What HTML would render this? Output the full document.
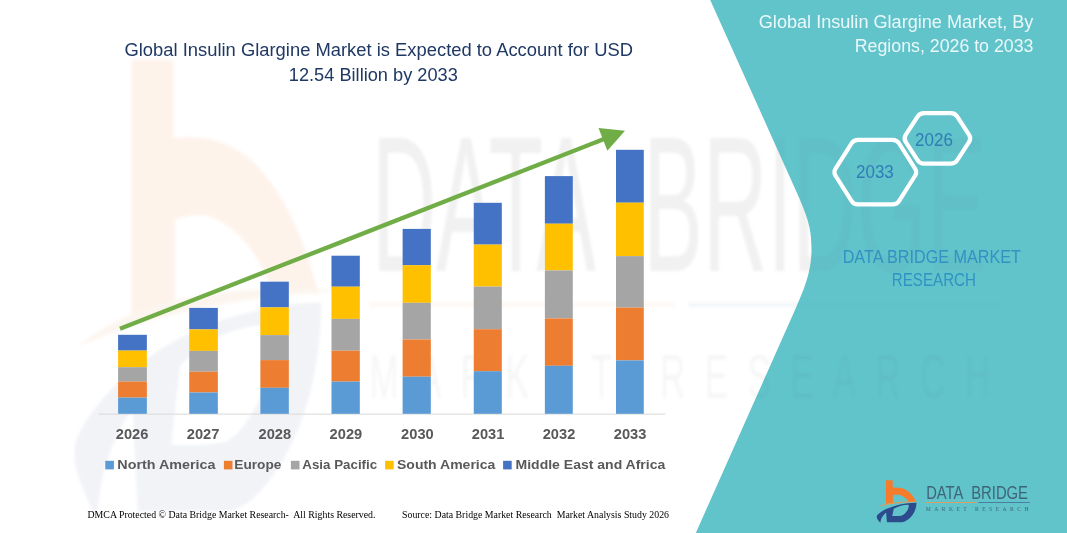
<!DOCTYPE html>
<html lang="en">
<head>
<meta charset="utf-8">
<title>Global Insulin Glargine Market</title>
<style>
html,body{margin:0;padding:0;background:#fff;}
body{width:1067px;height:533px;overflow:hidden;position:relative;}
svg{position:absolute;left:0;top:0;display:block;}
.sans{font-family:"Liberation Sans",sans-serif;}
.serif{font-family:"Liberation Serif",serif;}
</style>
</head>
<body>
<svg width="1067" height="533" viewBox="0 0 1067 533">
<defs><filter id="blur" x="-5%" y="-5%" width="110%" height="110%"><feGaussianBlur stdDeviation="1.5"/></filter></defs>
<rect width="1067" height="533" fill="#ffffff"/>
<clipPath id="cp"><path d="M710.2 0 L797 193 C808.1 218 811.5 229 811.5 249 C811.5 269 806.5 284 795.4 309 L695.8 533 H1067 V0 Z"/></clipPath>
<g id="watermark-icon" opacity="0.085" filter="url(#blur)">
<g transform="translate(131.5 59.8) scale(6.2 10.75) translate(-885.9 -480.2)">
<path fill="#F47C2C" d="M885.9 480.2 H892.7 V487.5 C896 487.2 899 487.5 901.4 488.1 C904 488.8 905.5 489.6 907 490.6 C909 492 910.3 493.2 911.5 494.6 C913 496.4 914 497.8 914.9 499.6 C915.4 500.6 915.8 501.3 916 502 C913.6 501.9 911 501.9 908.7 502 C908.3 501.2 907.7 500.4 907 499.6 C906 498.4 904.8 497.5 903.6 496.8 C902 495.8 900.3 495.1 898.6 494.8 C896.8 494.5 894.6 494.7 892.9 495.1 V502.9 C890.5 503.2 888.2 503.6 885.9 504.1 Z"/>
<path fill="#E39A55" d="M877.2 506.9 C884 503.6 893 502.2 902 501.7 C908 501.4 914 501.4 919.6 501.7 C914 501.9 908 502.2 902 502.8 C893 503.7 884.5 505 877.2 506.9 Z"/>
<path fill="#2C4B8C" fill-opacity="0.75" fill-rule="evenodd" d="M916.5 502.8 C912.8 502.8 909.3 503.1 905.8 503.6 C901.8 504.1 898.1 504.9 894.5 505.9 C891.5 506.7 888.8 507.8 886.1 509 C883.5 510.2 881.2 511.7 879.3 513.2 C878.2 514.1 877.3 515 876.8 516 C876.5 517.2 876.9 518.3 877.6 519.4 C878.4 520.6 879.3 521.8 880.4 522.8 C880.5 521.4 880.8 520.1 881.3 518.8 C881.8 517.6 882.5 516.5 883.3 515.5 C884.1 514.5 885 513.5 886.1 512.6 L886.9 522.2 H901.3 C903.8 522 906 520.9 908 519.4 C909.8 518.1 911.3 516.6 912.5 514.9 C913.8 513.2 914.7 511.3 915.4 509.3 C916.1 507.2 916.5 505 916.5 502.8 Z M893.7 508.7 C895.7 507.5 897.9 506.6 900.2 505.9 C902.7 505.2 905.3 504.9 908 504.8 L908.8 505.3 C908.8 506.7 908.5 508 908 509.3 C907.3 510.8 906.4 512.1 905.2 513.2 C904.1 514.3 902.8 515.2 901.3 515.7 C898.3 516.1 895.3 516.1 892.3 516 Z"/>
</g></g>
<g opacity="0.075" filter="url(#blur)">
<g transform="translate(372 130) scale(6.03 10.76) translate(-926.2 -486.2)">
<text class="sans" x="926.2" y="499.3" font-size="18" fill="#444" textLength="37.1" lengthAdjust="spacingAndGlyphs">DATA</text>
<text class="sans" x="971.2" y="499.3" font-size="18" fill="#444" textLength="56.8" lengthAdjust="spacingAndGlyphs">BRIDGE</text>
</g>
<rect x="370" y="302.5" width="305" height="4.5" fill="#E08A3C" opacity="0.8"/><rect x="688" y="302.5" width="312" height="4.5" fill="#4A7FA0" opacity="0.8"/>
</g>
<g opacity="0.04" filter="url(#blur)">
<g transform="translate(372 130) scale(6.03 10.76) translate(-926.2 -486.2)">
<text class="sans" x="925.8" y="511.1" font-size="5.8" fill="#333" textLength="102.9" lengthAdjust="spacing">MARKET RESEARCH</text>
</g></g>
<path id="panel" d="M710.2 0 L797 193 C808.1 218 811.5 229 811.5 249 C811.5 269 806.5 284 795.4 309 L695.8 533 H1067 V0 Z" fill="#62C4CB"/>
<g clip-path="url(#cp)">
<g opacity="0.03" filter="url(#blur)">
<g transform="translate(372 130) scale(6.03 10.76) translate(-926.2 -486.2)">
<text class="sans" x="926.2" y="499.3" font-size="18" fill="#444" textLength="37.1" lengthAdjust="spacingAndGlyphs">DATA</text>
<text class="sans" x="971.2" y="499.3" font-size="18" fill="#444" textLength="56.8" lengthAdjust="spacingAndGlyphs">BRIDGE</text>
</g>
<rect x="370" y="302.5" width="305" height="4.5" fill="#E08A3C" opacity="0.8"/><rect x="688" y="302.5" width="312" height="4.5" fill="#4A7FA0" opacity="0.8"/>
</g>
<g opacity="0.03" filter="url(#blur)">
<g transform="translate(372 130) scale(6.03 10.76) translate(-926.2 -486.2)">
<text class="sans" x="925.8" y="511.1" font-size="5.8" fill="#333" textLength="102.9" lengthAdjust="spacing">MARKET RESEARCH</text>
</g></g>
</g>
<rect x="98.3" y="413.6" width="567" height="1" fill="#D9D9D9"/>
<rect x="118.10" y="334.8" width="28.75" height="15.8" fill="#4472C4"/>
<rect x="118.10" y="350.6" width="28.75" height="16.6" fill="#FFC000"/>
<rect x="118.10" y="367.2" width="28.75" height="14.4" fill="#A5A5A5"/>
<rect x="118.10" y="381.6" width="28.75" height="16.0" fill="#ED7D31"/>
<rect x="118.10" y="397.6" width="28.75" height="16.2" fill="#5B9BD5"/>
<rect x="189.23" y="307.9" width="28.61" height="21.5" fill="#4472C4"/>
<rect x="189.23" y="329.4" width="28.61" height="21.5" fill="#FFC000"/>
<rect x="189.23" y="350.9" width="28.61" height="20.8" fill="#A5A5A5"/>
<rect x="189.23" y="371.7" width="28.61" height="20.8" fill="#ED7D31"/>
<rect x="189.23" y="392.5" width="28.61" height="21.3" fill="#5B9BD5"/>
<rect x="260.36" y="281.7" width="28.47" height="25.7" fill="#4472C4"/>
<rect x="260.36" y="307.4" width="28.47" height="27.7" fill="#FFC000"/>
<rect x="260.36" y="335.1" width="28.47" height="25.0" fill="#A5A5A5"/>
<rect x="260.36" y="360.1" width="28.47" height="27.7" fill="#ED7D31"/>
<rect x="260.36" y="387.8" width="28.47" height="26.0" fill="#5B9BD5"/>
<rect x="331.49" y="255.7" width="28.33" height="31.0" fill="#4472C4"/>
<rect x="331.49" y="286.7" width="28.33" height="32.2" fill="#FFC000"/>
<rect x="331.49" y="318.9" width="28.33" height="31.8" fill="#A5A5A5"/>
<rect x="331.49" y="350.7" width="28.33" height="30.9" fill="#ED7D31"/>
<rect x="331.49" y="381.6" width="28.33" height="32.2" fill="#5B9BD5"/>
<rect x="402.62" y="228.9" width="28.19" height="36.3" fill="#4472C4"/>
<rect x="402.62" y="265.2" width="28.19" height="37.6" fill="#FFC000"/>
<rect x="402.62" y="302.8" width="28.19" height="36.7" fill="#A5A5A5"/>
<rect x="402.62" y="339.5" width="28.19" height="37.2" fill="#ED7D31"/>
<rect x="402.62" y="376.7" width="28.19" height="37.1" fill="#5B9BD5"/>
<rect x="473.75" y="202.8" width="28.05" height="41.8" fill="#4472C4"/>
<rect x="473.75" y="244.6" width="28.05" height="42.0" fill="#FFC000"/>
<rect x="473.75" y="286.6" width="28.05" height="42.6" fill="#A5A5A5"/>
<rect x="473.75" y="329.2" width="28.05" height="42.0" fill="#ED7D31"/>
<rect x="473.75" y="371.2" width="28.05" height="42.6" fill="#5B9BD5"/>
<rect x="544.88" y="176.1" width="27.91" height="47.6" fill="#4472C4"/>
<rect x="544.88" y="223.7" width="27.91" height="46.7" fill="#FFC000"/>
<rect x="544.88" y="270.4" width="27.91" height="48.0" fill="#A5A5A5"/>
<rect x="544.88" y="318.4" width="27.91" height="47.4" fill="#ED7D31"/>
<rect x="544.88" y="365.8" width="27.91" height="48.0" fill="#5B9BD5"/>
<rect x="616.01" y="149.8" width="27.77" height="52.9" fill="#4472C4"/>
<rect x="616.01" y="202.7" width="27.77" height="53.4" fill="#FFC000"/>
<rect x="616.01" y="256.1" width="27.77" height="51.5" fill="#A5A5A5"/>
<rect x="616.01" y="307.6" width="27.77" height="52.8" fill="#ED7D31"/>
<rect x="616.01" y="360.4" width="27.77" height="53.4" fill="#5B9BD5"/>
<line x1="120.0" y1="328.7" x2="603.9" y2="139.1" stroke="#70AD47" stroke-width="4.3"/>
<polygon points="625.0,130.8 607.4,150.8 598.5,128.1" fill="#70AD47"/>
<g class="sans" font-weight="bold" font-size="14" fill="#595959" text-anchor="middle">
<text x="132.1" y="439.2" textLength="32.6" lengthAdjust="spacingAndGlyphs">2026</text>
<text x="203.1" y="439.2" textLength="32.6" lengthAdjust="spacingAndGlyphs">2027</text>
<text x="274.8" y="439.2" textLength="32.6" lengthAdjust="spacingAndGlyphs">2028</text>
<text x="345.9" y="439.2" textLength="32.6" lengthAdjust="spacingAndGlyphs">2029</text>
<text x="417.4" y="439.2" textLength="32.6" lengthAdjust="spacingAndGlyphs">2030</text>
<text x="488.1" y="439.2" textLength="32.6" lengthAdjust="spacingAndGlyphs">2031</text>
<text x="559.0" y="439.2" textLength="32.6" lengthAdjust="spacingAndGlyphs">2032</text>
<text x="630.1" y="439.2" textLength="32.6" lengthAdjust="spacingAndGlyphs">2033</text>
</g>
<g class="sans" font-weight="bold" font-size="13.5" fill="#595959">
<rect x="105.3" y="460.8" width="8.6" height="8.6" fill="#5B9BD5"/>
<text x="117.3" y="468.9" textLength="98.1" lengthAdjust="spacingAndGlyphs">North America</text>
<rect x="223.9" y="460.8" width="8.6" height="8.6" fill="#ED7D31"/>
<text x="234.3" y="468.9" textLength="47.1" lengthAdjust="spacingAndGlyphs">Europe</text>
<rect x="290.9" y="460.8" width="8.6" height="8.6" fill="#A5A5A5"/>
<text x="302.3" y="468.9" textLength="74.9" lengthAdjust="spacingAndGlyphs">Asia Pacific</text>
<rect x="385.1" y="460.8" width="8.6" height="8.6" fill="#FFC000"/>
<text x="397.0" y="468.9" textLength="98.3" lengthAdjust="spacingAndGlyphs">South America</text>
<rect x="503.1" y="460.8" width="8.6" height="8.6" fill="#4472C4"/>
<text x="515.5" y="468.9" textLength="149.8" lengthAdjust="spacingAndGlyphs">Middle East and Africa</text>
</g>
<g class="sans" font-size="18.3" fill="#1F3864">
<text x="124.5" y="55.9" textLength="508.5" lengthAdjust="spacingAndGlyphs">Global Insulin Glargine Market is Expected to Account for USD</text>
<text x="288.8" y="80.6" textLength="169" lengthAdjust="spacingAndGlyphs">12.54 Billion by 2033</text>
</g>
<g class="sans" font-size="18.3" fill="#EAF8F9">
<text x="758.8" y="28.2" textLength="274.6" lengthAdjust="spacingAndGlyphs">Global Insulin Glargine Market, By</text>
<text x="854.8" y="52.1" textLength="178.6" lengthAdjust="spacingAndGlyphs">Regions, 2026 to 2033</text>
</g>
<path d="M905.68 141.92 Q903.40 138.40 905.68 134.88 L917.52 116.62 Q919.80 113.10 924.00 113.10 L950.80 113.10 Q955.00 113.10 957.28 116.62 L969.12 134.88 Q971.40 138.40 969.12 141.92 L957.28 160.18 Q955.00 163.70 950.80 163.70 L924.00 163.70 Q919.80 163.70 917.52 160.18 Z" fill="none" stroke="#fff" stroke-width="4.2" stroke-linejoin="round"/>
<path d="M835.55 175.75 Q833.30 172.20 835.55 168.65 L851.45 143.50 Q853.70 139.95 857.90 139.95 L892.70 139.95 Q896.90 139.95 899.15 143.50 L915.05 168.65 Q917.30 172.20 915.05 175.75 L899.15 200.90 Q896.90 204.45 892.70 204.45 L857.90 204.45 Q853.70 204.45 851.45 200.90 Z" fill="none" stroke="#fff" stroke-width="4.2" stroke-linejoin="round"/>
<g class="sans" font-size="18.6" fill="#2E7DB5">
<text x="856" y="177.8" textLength="37.8" lengthAdjust="spacingAndGlyphs">2033</text>
<text x="915.1" y="146" textLength="37.8" lengthAdjust="spacingAndGlyphs">2026</text>
</g>
<g class="sans" font-size="17.7" fill="#3391C3">
<text x="842.7" y="262.8" textLength="178.3" lengthAdjust="spacingAndGlyphs">DATA BRIDGE MARKET</text>
<text x="891.8" y="286.2" textLength="84.2" lengthAdjust="spacingAndGlyphs">RESEARCH</text>
</g>
<g class="serif" font-size="11" fill="#000">
<text x="87.5" y="518.4" textLength="288" lengthAdjust="spacingAndGlyphs" xml:space="preserve">DMCA Protected © Data Bridge Market Research-  All Rights Reserved.</text>
<text x="402" y="518.4" textLength="267" lengthAdjust="spacingAndGlyphs" xml:space="preserve">Source: Data Bridge Market Research  Market Analysis Study 2026</text>
</g>
<g id="logo">
<path fill="#F47C2C" d="M885.9 480.2 H892.7 V487.5 C896 487.2 899 487.5 901.4 488.1 C904 488.8 905.5 489.6 907 490.6 C909 492 910.3 493.2 911.5 494.6 C913 496.4 914 497.8 914.9 499.6 C915.4 500.6 915.8 501.3 916 502 C913.6 501.9 911 501.9 908.7 502 C908.3 501.2 907.7 500.4 907 499.6 C906 498.4 904.8 497.5 903.6 496.8 C902 495.8 900.3 495.1 898.6 494.8 C896.8 494.5 894.6 494.7 892.9 495.1 V502.9 C890.5 503.2 888.2 503.6 885.9 504.1 Z"/>
<path fill="#E39A55" d="M877.2 506.9 C884 503.6 893 502.2 902 501.7 C908 501.4 914 501.4 919.6 501.7 C914 501.9 908 502.2 902 502.8 C893 503.7 884.5 505 877.2 506.9 Z"/>
<path fill="#2C4B8C" fill-opacity="1" fill-rule="evenodd" d="M916.5 502.8 C912.8 502.8 909.3 503.1 905.8 503.6 C901.8 504.1 898.1 504.9 894.5 505.9 C891.5 506.7 888.8 507.8 886.1 509 C883.5 510.2 881.2 511.7 879.3 513.2 C878.2 514.1 877.3 515 876.8 516 C876.5 517.2 876.9 518.3 877.6 519.4 C878.4 520.6 879.3 521.8 880.4 522.8 C880.5 521.4 880.8 520.1 881.3 518.8 C881.8 517.6 882.5 516.5 883.3 515.5 C884.1 514.5 885 513.5 886.1 512.6 L886.9 522.2 H901.3 C903.8 522 906 520.9 908 519.4 C909.8 518.1 911.3 516.6 912.5 514.9 C913.8 513.2 914.7 511.3 915.4 509.3 C916.1 507.2 916.5 505 916.5 502.8 Z M893.7 508.7 C895.7 507.5 897.9 506.6 900.2 505.9 C902.7 505.2 905.3 504.9 908 504.8 L908.8 505.3 C908.8 506.7 908.5 508 908 509.3 C907.3 510.8 906.4 512.1 905.2 513.2 C904.1 514.3 902.8 515.2 901.3 515.7 C898.3 516.1 895.3 516.1 892.3 516 Z"/>
<text class="sans" x="926.2" y="499.3" font-size="18" fill="#3F6478" textLength="37.1" lengthAdjust="spacingAndGlyphs">DATA</text>
<text class="sans" x="971.2" y="499.3" font-size="18" fill="#3F6478" textLength="56.8" lengthAdjust="spacingAndGlyphs">BRIDGE</text>
<rect x="925.6" y="502" width="51" height="1" fill="#D9A066"/><rect x="978.5" y="502" width="51.3" height="1" fill="#4A7FA0"/>
<text class="serif" x="925.8" y="511" font-size="5.6" fill="#3F6478" textLength="102.7" lengthAdjust="spacing">MARKET RESEARCH</text>
</g>
</svg>
</body>
</html>
